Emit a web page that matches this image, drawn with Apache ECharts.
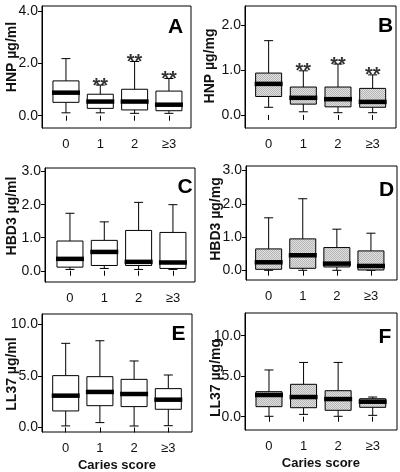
<!DOCTYPE html>
<html><head><meta charset="utf-8">
<script src="https://cdn.jsdelivr.net/npm/echarts@6/dist/echarts.min.js"></script>
<style>html,body{margin:0;padding:0;background:#fff}#c{width:400px;height:472px}</style>
</head><body><div id="c"></div>
<script>
const categories = ['0', '1', '2', '≥3'];
// each entry: [lower whisker, Q1, median, Q3, upper whisker]
const hnpMl  = [[0.11,0.51,0.88,1.33,2.18],[0.11,0.28,0.54,0.82,1.17],[0.09,0.22,0.54,1.01,2.07],[0.09,0.19,0.42,0.94,1.42]];
const hnpMg  = [[0.17,0.41,0.69,0.93,1.65],[0.07,0.24,0.38,0.62,0.98],[0.05,0.18,0.35,0.62,1.13],[0.05,0.17,0.29,0.59,0.89]];
const hbd3Ml = [[0.04,0.11,0.36,0.90,1.74],[0.07,0.16,0.57,0.92,1.48],[0.04,0.16,0.27,1.22,2.07],[0.04,0.07,0.25,1.16,2.00]];
const hbd3Mg = [[0.01,0.04,0.25,0.65,1.58],[0.01,0.07,0.46,0.95,2.15],[0.01,0.11,0.21,0.69,1.24],[0.01,0.02,0.14,0.59,1.12]];
const ll37Ml = [[0.15,1.60,3.08,5.02,8.15],[0.47,2.11,3.44,4.92,8.40],[0.14,2.02,3.24,4.66,6.44],[0.17,1.76,2.69,3.76,5.08]];
const ll37Mg = [[0.05,1.24,2.68,3.09,5.77],[0.29,1.11,2.43,4.00,6.70],[0.05,0.79,2.18,3.21,6.70],[0.17,1.16,1.85,2.22,2.43]];
const hnpMlSig = ['', '**', '**', '**'];
const hnpMgSig = ['', '**', '**', '**'];
const ticksHnpMl = [0, 2, 4];
const ticksHnpMg = [0, 1, 2];
const ticksHbd3 = [0, 1, 2, 3];
const ticksLl37 = [0, 5, 10];

const FONT = '"Liberation Sans", Arial, sans-serif';

function stipple(){
  const c = document.createElement('canvas');
  c.width = 2; c.height = 2;
  const g = c.getContext('2d');
  g.fillStyle = '#e0e0e0'; g.fillRect(0,0,2,2);
  g.fillStyle = '#b6b6b6'; g.fillRect(0,0,1,1); g.fillRect(1,1,1,1);
  return {image:c, repeat:'repeat'};
}
const GRAY = stipple();

const panels = [
  {letter:'A', data:hnpMl, sig:hnpMlSig, ticks:ticksHnpMl, yname:'HNP µg/ml', fill:'#fff', min:-0.47, max:4.19,
   frame:[42,6,149,122], inner:[48.8,137.3], lpos:[175.5,27], npos:[12.5,57], xname:''},
  {letter:'B', data:hnpMg, sig:hnpMgSig, ticks:ticksHnpMg, yname:'HNP µg/mg', fill:GRAY, min:-0.29, max:2.42,
   frame:[245,6,151,122], inner:[251.3,138.7], lpos:[385.5,26], npos:[210.5,66], xname:''},
  {letter:'C', data:hbd3Ml, sig:null, ticks:ticksHbd3, yname:'HBD3 µg/ml', fill:'#fff', min:-0.34, max:3.11,
   frame:[45,168,150,114], inner:[52.8,137.3], lpos:[185,187], npos:[12,216], xname:''},
  {letter:'D', data:hbd3Mg, sig:null, ticks:ticksHbd3, yname:'HBD3 µg/mg', fill:GRAY, min:-0.28, max:3.13,
   frame:[246,166,151,114], inner:[251.6,136.4], lpos:[386.5,190.5], npos:[216,219], xname:''},
  {letter:'E', data:ll37Ml, sig:null, ticks:ticksLl37, yname:'LL37 µg/ml', fill:'#fff', min:-0.44, max:10.99,
   frame:[42,314,150,118], inner:[48.6,136.8], lpos:[178.5,334], npos:[12,374], xname:'Caries score'},
  {letter:'F', data:ll37Mg, sig:null, ticks:ticksLl37, yname:'LL37 µg/mg', fill:GRAY, min:-1.64, max:12.8,
   frame:[245,313,152,117], inner:[251.7,138.3], lpos:[385,337], npos:[216,378], xname:'Caries score'}
];

function boxRenderer(fill){
  return function(params, api){
    const i = api.value(0);
    const lo = api.coord([i, api.value(1)]);
    const q1 = api.coord([i, api.value(2)]);
    const md = api.coord([i, api.value(3)]);
    const q3 = api.coord([i, api.value(4)]);
    const hi = api.coord([i, api.value(5)]);
    const x = lo[0], hw = 13, cw = 4.5;
    const ls = {stroke:'#000', lineWidth:1};
    return {type:'group', children:[
      {type:'line', shape:{x1:x,y1:hi[1],x2:x,y2:q3[1]}, style:ls},
      {type:'line', shape:{x1:x,y1:q1[1],x2:x,y2:lo[1]}, style:ls},
      {type:'line', shape:{x1:x-cw,y1:hi[1],x2:x+cw,y2:hi[1]}, style:ls},
      {type:'line', shape:{x1:x-cw,y1:lo[1],x2:x+cw,y2:lo[1]}, style:ls},
      {type:'rect', shape:{x:x-hw,y:q3[1],width:2*hw,height:q1[1]-q3[1]}, style:{fill:fill, stroke:'#000', lineWidth:1}},
      {type:'line', shape:{x1:x-hw-1,y1:md[1],x2:x+hw+1,y2:md[1]}, style:{stroke:'#000', lineWidth:4.5}}
    ]};
  };
}

const grid = [], xAxis = [], yAxis = [], series = [], graphic = [];
panels.forEach((p, k) => {
  const o = 2*k, n = 2*k+1;
  const [fl, ft, fw, fh] = p.frame;
  grid.push({left:fl, top:ft, width:fw, height:fh, show:true, borderColor:'#000', borderWidth:1, backgroundColor:'transparent', containLabel:false, outerBoundsMode:'none'});
  grid.push({left:p.inner[0], top:ft, width:p.inner[1], height:fh, containLabel:false, outerBoundsMode:'none'});
  xAxis.push({type:'value', gridIndex:o, show:false, min:0, max:1});
  xAxis.push({type:'category', gridIndex:n, data:categories, boundaryGap:true,
    axisLine:{show:false}, axisTick:{show:true, alignWithLabel:true, length:5, lineStyle:{color:'#000'}},
    axisLabel:{margin:10, fontSize:13, fontFamily:FONT, color:'#111'},
    name:p.xname, nameLocation:'middle', nameGap:27, nameMoveOverlap:false,
    nameTextStyle:{fontSize:13, fontWeight:'bold', fontFamily:FONT, color:'#111'}});
  yAxis.push({type:'value', gridIndex:o, min:p.min, max:p.max,
    axisLine:{show:true, lineStyle:{color:'#000'}},
    axisTick:{show:true, length:4, customValues:p.ticks, lineStyle:{color:'#000'}},
    axisLabel:{customValues:p.ticks, margin:4, fontSize:14, fontFamily:FONT, color:'#111', formatter:v => v.toFixed(1)},
    splitLine:{show:false}});
  yAxis.push({type:'value', gridIndex:n, min:p.min, max:p.max, show:false});
  series.push({type:'custom', xAxisIndex:n, yAxisIndex:n, renderItem:boxRenderer(p.fill),
    encode:{x:0, y:[1,2,3,4,5]}, data:p.data.map((d,i) => [i].concat(d)), clip:false, silent:true});
  if (p.sig) {
    series.push({type:'scatter', xAxisIndex:n, yAxisIndex:n, symbolSize:0, silent:true,
      data:p.data.map((d,i) => ({value:[i, d[4]], label:{formatter:p.sig[i]}})),
      label:{show:true, position:'top', distance:0, offset:[0,11], fontSize:20, fontWeight:'bold', fontFamily:FONT, color:'#000'}});
  }
  graphic.push({type:'text', x:p.lpos[0], y:p.lpos[1],
    style:{text:p.letter, font:'bold 21px ' + FONT, fill:'#000', textAlign:'center', textVerticalAlign:'middle'}});
  graphic.push({type:'text', x:p.npos[0], y:p.npos[1], rotation:Math.PI/2,
    style:{text:p.yname, font:'bold 14px ' + FONT, fill:'#111', textAlign:'center', textVerticalAlign:'middle'}});
});

const chart = echarts.init(document.getElementById('c'), null, {renderer:'canvas'});
chart.setOption({backgroundColor:'#fff', animation:false, grid, xAxis, yAxis, series, graphic});
</script></body></html>
